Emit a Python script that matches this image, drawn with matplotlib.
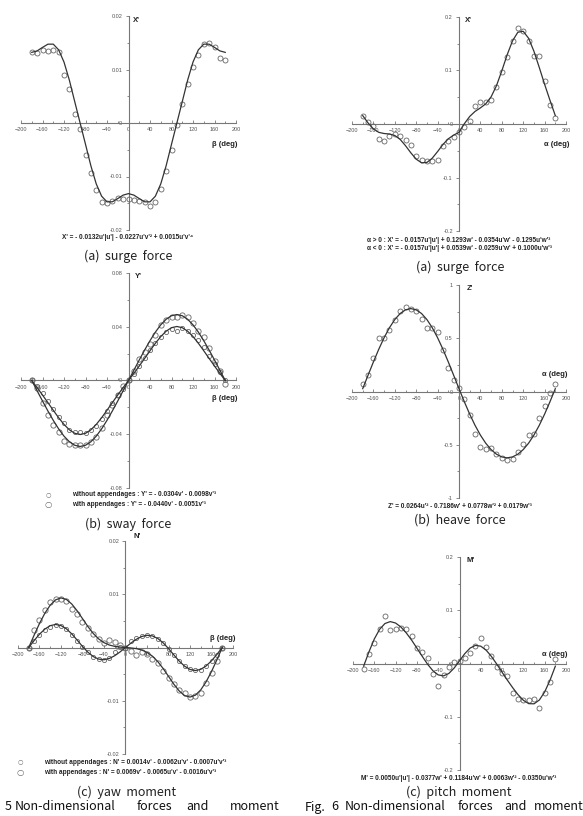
import numpy as np
import matplotlib
matplotlib.use("Agg")
import matplotlib.pyplot as plt

W, H = 583, 816

ang = list(range(-180, 181, 10))

# (a) surge force, beta
surge_b_pts = [0.0133, 0.0130, 0.0137, 0.0134, 0.0137, 0.0132, 0.0089, 0.0064, 0.0017, -0.0012,
               -0.0060, -0.0094, -0.0126, -0.0148, -0.0150, -0.0145, -0.0140, -0.0142, -0.0142,
               -0.0143, -0.0145, -0.0148, -0.0155, -0.0148, -0.0123, -0.0090, -0.0050, -0.0003,
               0.0035, 0.0073, 0.0105, 0.0127, 0.0147, 0.0150, 0.0142, 0.0122, 0.0117]
surge_b_fit = [0.0132, 0.01348, 0.01413, 0.01473, 0.01474, 0.01368, 0.01139, 0.00800, 0.00398, 0.0,
               -0.00398, -0.00800, -0.01139, -0.01368, -0.01474, -0.01473, -0.01413, -0.01348, -0.0132,
               -0.01348, -0.01413, -0.01473, -0.01474, -0.01368, -0.01139, -0.00800, -0.00398, 0.0,
               0.00398, 0.00800, 0.01139, 0.01368, 0.01474, 0.01473, 0.01413, 0.01348, 0.0132]

# (a) surge force, alpha
surge_a_pts = [0.0156, 0.003, -0.0044, -0.028, -0.032, -0.023, -0.018, -0.023, -0.0305, -0.040,
               -0.059, -0.067, -0.069, -0.0685, -0.0667, -0.042, -0.032, -0.025, -0.0156,
               -0.006, 0.005, 0.033, 0.042, 0.042, 0.0455, 0.070, 0.0966, 0.125, 0.156,
               0.179, 0.1745, 0.155, 0.128, 0.1265, 0.080, 0.035, 0.011]
surge_a_fit = [0.0157, 0.0020, -0.0091, -0.0156, -0.0178, -0.0187, -0.0215, -0.0288, -0.0405, -0.0539,
               -0.0657, -0.0725, -0.0719, -0.0639, -0.0515, -0.0383, -0.0277, -0.0207, -0.0157,
               0.0005, 0.0141, 0.0235, 0.0301, 0.0377, 0.0507, 0.0715, 0.0993, 0.1293, 0.1553,
               0.1715, 0.1733, 0.1604, 0.1361, 0.1058, 0.0743, 0.0444, 0.0157]

# (b) sway force
sway_wo_pts = [0, -0.004, -0.009, -0.015, -0.021, -0.027, -0.032, -0.037, -0.038, -0.038,
               -0.039, -0.037, -0.034, -0.029, -0.023, -0.017, -0.011, -0.006, 0,
               0.005, 0.011, 0.017, 0.023, 0.028, 0.032, 0.036, 0.038, 0.037, 0.039,
               0.037, 0.034, 0.030, 0.025, 0.018, 0.012, 0.006, 0]
sway_w_pts = [0, -0.0055, -0.017, -0.026, -0.033, -0.038, -0.045, -0.047, -0.048, -0.048,
              -0.048, -0.046, -0.042, -0.035, -0.026, -0.018, -0.011, -0.004, 0,
              0.007, 0.016, 0.021, 0.027, 0.034, 0.041, 0.045, 0.047, 0.047, 0.049,
              0.047, 0.043, 0.037, 0.032, 0.024, 0.0145, 0.007, -0.0025]
sway_wo_fit = [0, -0.00533, -0.01079, -0.01643, -0.02214, -0.02769, -0.03269, -0.03670, -0.03930, -0.0402,
               -0.03930, -0.03670, -0.03269, -0.02769, -0.02214, -0.01643, -0.01079, -0.00533, 0,
               0.00533, 0.01079, 0.01643, 0.02214, 0.02769, 0.03269, 0.03670, 0.03930, 0.0402,
               0.03930, 0.03670, 0.03269, 0.02769, 0.02214, 0.01643, 0.01079, 0.00533, 0]
sway_w_fit = [0, -0.00767, -0.01525, -0.02264, -0.02964, -0.03600, -0.04142, -0.04558, -0.04820, -0.0491,
              -0.04820, -0.04558, -0.04142, -0.03600, -0.02964, -0.02264, -0.01525, -0.00767, 0,
              0.00767, 0.01525, 0.02264, 0.02964, 0.03600, 0.04142, 0.04558, 0.04820, 0.0491,
              0.04820, 0.04558, 0.04142, 0.03600, 0.02964, 0.02264, 0.01525, 0.00767, 0]

# (b) heave force
heave_pts = [0.069, 0.156, 0.31, 0.50, 0.50, 0.58, 0.675, 0.76, 0.797, 0.775,
             0.753, 0.684, 0.597, 0.597, 0.556, 0.39, 0.219, 0.109, 0.034,
             -0.069, -0.225, -0.397, -0.522, -0.537, -0.531, -0.59, -0.622, -0.64, -0.637,
             -0.569, -0.497, -0.406, -0.403, -0.25, -0.14, -0.016, 0.072]
heave_fit = [0.0264, 0.1526, 0.2775, 0.3963, 0.5048, 0.5990, 0.6756, 0.7322, 0.7668, 0.7785,
             0.7668, 0.7322, 0.6756, 0.5990, 0.5048, 0.3963, 0.2775, 0.1526, 0.0264,
             -0.0967, -0.2126, -0.3178, -0.4095, -0.4858, -0.5457, -0.5886, -0.6143, -0.6229,
             -0.6143, -0.5886, -0.5457, -0.4858, -0.4095, -0.3178, -0.2126, -0.0967, 0.0264]

# (c) yaw moment
yaw_wo_pts = [0, 0.0012, 0.0024, 0.0033, 0.0039, 0.0042, 0.0040, 0.0034, 0.0024, 0.0012,
              0.0001, -0.0009, -0.0017, -0.0021, -0.0023, -0.0020, -0.0008, 0.0001, 0,
              0.0013, 0.0017, 0.0021, 0.0023, 0.0021, 0.0016, 0.0008, -0.0003, -0.0014, -0.0025,
              -0.0035, -0.0041, -0.0043, -0.0042, -0.0034, -0.0025, -0.0015, 0]
yaw_w_pts = [0, 0.0033, 0.0052, 0.0070, 0.0086, 0.0091, 0.0092, 0.0087, 0.0073, 0.0062,
             0.0048, 0.0036, 0.0026, 0.0016, 0.0009, 0.0015, 0.0010, 0.0005, 0,
             -0.0007, -0.0015, -0.0008, -0.0012, -0.0022, -0.0030, -0.0045, -0.0057, -0.0069, -0.0079,
             -0.0086, -0.0093, -0.0091, -0.0085, -0.0067, -0.0047, -0.0026, 0]
yaw_wo_fit = [0, 0.00131, 0.00250, 0.00346, 0.00410, 0.00433, 0.00412, 0.00351, 0.00256, 0.0014,
              0.00020, -0.00088, -0.00170, -0.00218, -0.00230, -0.00206, -0.00154, -0.00082, 0,
              0.00082, 0.00154, 0.00206, 0.00230, 0.00218, 0.00170, 0.00088, -0.00020, -0.0014,
              -0.00256, -0.00351, -0.00412, -0.00433, -0.00410, -0.00346, -0.00250, -0.00131, 0]
yaw_w_fit = [0, 0.00232, 0.00451, 0.00644, 0.00796, 0.00895, 0.00931, 0.00903, 0.00817, 0.0069,
             0.00542, 0.00394, 0.00264, 0.00162, 0.00091, 0.00046, 0.00021, 0.00008, 0,
             -0.00008, -0.00021, -0.00046, -0.00091, -0.00162, -0.00264, -0.00394, -0.00542, -0.0069,
             -0.00817, -0.00903, -0.00931, -0.00895, -0.00796, -0.00644, -0.00451, -0.00232, 0]

# (c) pitch moment
pitch_pts = [-0.0094, 0.0176, 0.039, 0.064, 0.090, 0.063, 0.065, 0.066, 0.065, 0.051,
             0.029, 0.021, 0.011, -0.020, -0.043, -0.021, -0.006, 0.002, 0.004,
             0.011, 0.019, 0.033, 0.048, 0.031, 0.014, -0.006, -0.018, -0.024, -0.056,
             -0.066, -0.068, -0.068, -0.066, -0.083, -0.056, -0.035, 0.009]
pitch_fit = [-0.005, 0.0220, 0.0460, 0.0642, 0.0751, 0.0787, 0.0760, 0.0685, 0.0575, 0.0440,
             0.0289, 0.0135, -0.0013, -0.0135, -0.0214, -0.0233, -0.0187, -0.0085, 0.005,
             0.0186, 0.0290, 0.0340, 0.0325, 0.0251, 0.0132, -0.0012, -0.0164, -0.0314,
             -0.0456, -0.0586, -0.0691, -0.0754, -0.0757, -0.0685, -0.0533, -0.0313, -0.005]

EQ_FONT = ['Liberation Sans', 'DejaVu Sans']
CAP_FONT = ['Noto Sans CJK KR', 'DejaVu Sans']
LINE = '#333333'
MARK = '#666666'
EQ = 4.7

fig = plt.figure(figsize=(W / 100, H / 100), dpi=100)


def px(x, y):
    return x / W, 1 - y / H


def make_axes(l, r, t, b, ylim, ystep):
    ax = fig.add_axes([l / W, 1 - b / H, (r - l) / W, (b - t) / H])
    ax.patch.set_alpha(0)
    ax.set_xlim(-200, 200)
    ax.set_ylim(-ylim, ylim)
    for s in ['top', 'right']:
        ax.spines[s].set_visible(False)
    for s in ['left', 'bottom']:
        ax.spines[s].set_position(('data', 0))
        ax.spines[s].set_color('#777777')
        ax.spines[s].set_linewidth(0.8)
    ax.set_xticks(np.arange(-200, 201, 40))
    ax.set_xticks(np.arange(-200, 201, 20), minor=True)
    yt = np.linspace(-ylim, ylim, int(round(2 * ylim / ystep)) + 1)
    ax.set_yticks(yt)
    ax.set_yticks(np.linspace(-ylim, ylim, 2 * len(yt) - 1), minor=True)
    ax.set_yticklabels(['%g' % v for v in yt])
    ax.tick_params(axis='x', which='both', direction='in', color='#777777', width=0.6,
                   labelsize=4, labelcolor='#555555', pad=3)
    ax.tick_params(axis='x', which='major', length=2.5)
    ax.tick_params(axis='x', which='minor', length=1.8)
    ax.tick_params(axis='y', which='both', direction='out', color='#777777', width=0.6,
                   labelsize=4, labelcolor='#555555', pad=2)
    ax.tick_params(axis='y', which='major', length=2.5)
    ax.tick_params(axis='y', which='minor', length=1.5)
    for lab in ax.get_xticklabels() + ax.get_yticklabels():
        lab.set_family(EQ_FONT)
    return ax


def pts(ax, y, ms=3.6):
    ax.plot(ang, y, 'o', mfc='none', mec=MARK, ms=ms, mew=0.6, zorder=3)


def fit(ax, y):
    ax.plot(ang, y, '-', color=LINE, lw=0.9, zorder=4)


def ftext(x, y, s, size=EQ, weight='bold', ha='left', family=EQ_FONT, color='#222222'):
    fig.text(*px(x, y), s, fontsize=size, fontweight=weight, ha=ha, va='center',
             family=family, color=color)


# top-left: surge (beta)
ax1 = make_axes(21, 236, 16, 230, 0.02, 0.01)
pts(ax1, surge_b_pts)
fit(ax1, surge_b_fit)
ftext(133, 21, "X'", size=5.5)
ftext(237, 144, "β (deg)", size=5.5, ha='right')
ftext(128, 237, "X' = - 0.0132u'|u'| - 0.0227u'v'² + 0.0015u'v'⁴", ha='center')
ftext(128, 256, "(a)  surge  force", size=9, weight='normal', ha='center', family=CAP_FONT)

# top-right: surge (alpha)
ax2 = make_axes(352, 566, 17, 231, 0.2, 0.1)
pts(ax2, surge_a_pts)
fit(ax2, surge_a_fit)
ftext(465, 21, "X'", size=5.5)
ftext(569, 144, "α (deg)", size=5.5, ha='right')
ftext(459, 240, "α > 0 : X' = - 0.0157u'|u'| + 0.1293w' - 0.0354u'w' - 0.1295u'w'³", ha='center')
ftext(459, 248, "α < 0 : X' = - 0.0157u'|u'| + 0.0539w' - 0.0259u'w' + 0.1000u'w'³", ha='center')
ftext(460, 267, "(a)  surge  force", size=9, weight='normal', ha='center', family=CAP_FONT)

# middle-left: sway
ax3 = make_axes(21, 236, 273, 488, 0.08, 0.04)
pts(ax3, sway_wo_pts, ms=3.0)
pts(ax3, sway_w_pts, ms=3.8)
fit(ax3, sway_wo_fit)
fit(ax3, sway_w_fit)
ftext(135, 277, "Y'", size=5.5)
ftext(237, 398, "β (deg)", size=5.5, ha='right')
ftext(48, 495, "○", size=4.5, weight='normal', ha='center', family=['DejaVu Sans'], color=MARK)
ftext(48, 505, "○", size=6, weight='normal', ha='center', family=['DejaVu Sans'], color=MARK)
ftext(72, 495, "without appendages : Y' = - 0.0304v' - 0.0098v'³")
ftext(72, 505, "with appendages : Y' = - 0.0440v' - 0.0051v'³")
ftext(128, 524, "(b)  sway  force", size=9, weight='normal', ha='center', family=CAP_FONT)

# middle-right: heave
ax4 = make_axes(352, 566, 285, 498, 1.0, 0.5)
pts(ax4, heave_pts)
fit(ax4, heave_fit)
ftext(467, 288, "Z'", size=5.5)
ftext(568, 375, "α (deg)", size=5.5, ha='right')
ftext(460, 506, "Z' = 0.0264u'² - 0.7186w' + 0.0778w'² + 0.0179w'³", ha='center')
ftext(460, 520, "(b)  heave  force", size=9, weight='normal', ha='center', family=CAP_FONT)

# bottom-left: yaw
ax5 = make_axes(18, 233, 541, 754, 0.02, 0.01)
pts(ax5, yaw_wo_pts, ms=3.0)
pts(ax5, yaw_w_pts, ms=3.8)
fit(ax5, yaw_wo_fit)
fit(ax5, yaw_w_fit)
ftext(134, 536, "N'", size=5.5)
ftext(235, 638, "β (deg)", size=5.5, ha='right')
ftext(20, 762, "○", size=4.5, weight='normal', ha='center', family=['DejaVu Sans'], color=MARK)
ftext(20, 772, "○", size=6, weight='normal', ha='center', family=['DejaVu Sans'], color=MARK)
ftext(44, 762, "without appendages : N' = 0.0014v' - 0.0062u'v' - 0.0007u'v'³")
ftext(44, 772, "with appendages : N' = 0.0069v' - 0.0065u'v' - 0.0016u'v'³")
ftext(127, 792, "(c)  yaw  moment", size=9, weight='normal', ha='center', family=CAP_FONT)

# bottom-right: pitch
ax6 = make_axes(353, 566, 557, 770, 0.2, 0.1)
pts(ax6, pitch_pts)
fit(ax6, pitch_fit)
ftext(466, 560, "M'", size=5.5)
ftext(568, 654, "α (deg)", size=5.5, ha='right')
ftext(459, 779, "M' = 0.0050u'|u'| - 0.0377w' + 0.1184u'w' + 0.0063w'² - 0.0350u'w'³", ha='center')
ftext(459, 792, "(c)  pitch  moment", size=9, weight='normal', ha='center', family=CAP_FONT)

# figure captions
for x, w in [(5, "5"), (15, "Non-dimensional"), (137, "forces"), (186, "and"), (230, "moment"),
             (305, "Fig."), (331, "6"), (345, "Non-dimensional"), (458, "forces"),
             (504, "and"), (534, "moment")]:
    ftext(x, 807, w, size=9, weight='normal', family=CAP_FONT, color='#111111')

fig.savefig('out.png', dpi=100)
